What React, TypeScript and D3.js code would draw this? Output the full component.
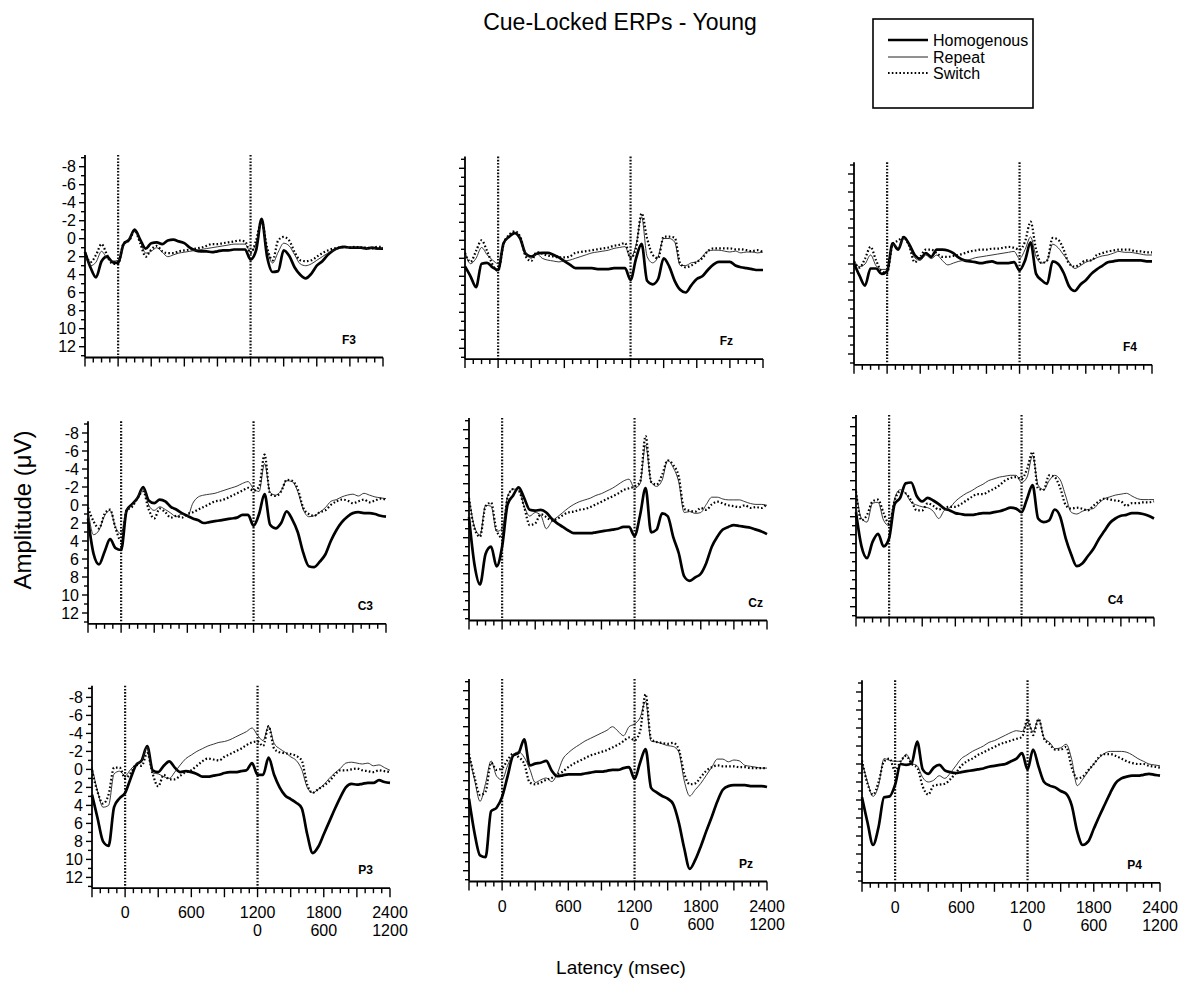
import React from 'react';
import * as d3 from 'd3';

// sample times (ms)
const TIMES = [-300,-250,-200,-150,-100,-50,0,50,100,150,200,250,300,350,400,450,500,550,600,650,700,750,800,850,900,950,1000,1050,1100,1150,1200,1250,1300,1350,1400,1450,1500,1550,1600,1650,1700,1750,1800,1850,1900,1950,2000,2050,2100,2150,2200,2250,2300,2350,2400];

// ---- F3 ----
const F3_HOM = [1.5,3.2,4.3,2.5,2.0,2.6,2.7,0.6,0.1,-1.0,0.1,1.1,0.5,0.4,0.6,0.2,0.1,0.3,0.5,1.0,1.3,1.4,1.4,1.5,1.4,1.3,1.3,1.2,1.2,1.2,2.3,1.3,-2.2,2.0,3.7,3.6,1.3,1.9,3.2,4.0,4.4,3.9,3.0,2.5,1.8,1.3,1.0,0.9,1.0,1.0,1.0,1.1,1.0,1.1,1.1];
const F3_REP = [1.6,3.0,2.6,1.4,2.2,2.5,2.4,0.8,0.0,-0.8,0.3,1.6,1.4,1.0,1.5,2.0,1.8,1.6,1.5,1.4,1.3,1.2,1.1,1.0,0.9,0.8,0.7,0.6,0.6,0.6,1.5,0.5,-1.8,1.2,2.7,1.5,0.5,0.8,1.8,2.8,3.0,2.8,2.4,2.0,1.6,1.3,1.1,1.0,1.0,1.0,1.0,1.1,1.0,1.2,1.0];
const F3_SWI = [1.5,2.6,1.8,0.6,1.8,2.8,2.8,0.5,0.2,-0.9,0.5,2.0,1.2,0.8,1.4,1.6,1.6,1.4,1.3,1.2,1.1,1.0,0.8,0.6,0.6,0.5,0.4,0.3,0.2,0.3,1.6,0.2,-2.0,1.0,2.4,0.2,-0.2,0.2,1.5,2.4,2.5,2.4,2.0,1.6,1.3,1.1,1.0,0.9,1.0,0.9,1.0,1.0,1.1,0.9,0.9];
// ---- Fz ----
const FZ_HOM = [2.9,4.0,5.2,2.6,2.5,3.0,3.3,0.3,-0.4,-0.8,-0.2,1.5,1.8,1.5,1.4,1.4,1.6,1.9,2.3,2.7,3.1,3.1,3.1,3.1,3.2,3.2,3.2,3.1,3.1,3.1,4.4,2.0,0.4,4.5,4.9,4.3,2.0,2.9,4.5,5.5,5.8,5.0,4.3,4.0,3.3,2.7,2.4,2.4,2.4,2.8,3.0,3.1,3.2,3.3,3.3];
const FZ_REP = [1.3,2.6,2.0,0.8,1.6,2.2,2.6,0.5,-0.5,-0.9,-0.3,1.4,2.0,1.5,2.0,2.2,2.3,2.4,2.3,2.2,2.0,1.8,1.6,1.4,1.3,1.2,1.1,0.9,0.8,0.7,2.0,0.5,-2.6,1.8,2.5,1.8,-0.2,-0.2,0.2,2.8,2.8,2.5,2.4,1.8,1.2,1.1,1.1,1.2,1.3,1.2,1.4,1.3,1.3,1.4,1.3];
const FZ_SWI = [1.4,2.4,1.2,0.0,1.2,2.7,3.4,0.4,-0.6,-1.0,-0.4,1.8,2.3,1.3,1.5,1.7,1.8,1.9,1.9,1.8,1.4,1.3,1.2,1.1,1.0,0.9,0.8,0.6,0.5,0.3,2.0,0.8,-3.0,-0.2,1.6,2.0,-0.4,-0.4,-0.3,2.6,3.0,2.8,2.4,2.0,1.2,0.9,0.9,0.9,0.9,1.0,1.0,1.1,1.2,1.1,1.3];
// ---- F4 ----
const F4_HOM = [1.9,3.3,4.4,2.5,2.5,3.1,2.8,-0.3,0.4,-1.0,-0.2,1.0,1.4,0.8,1.2,0.4,0.4,0.5,0.8,1.3,1.6,1.7,1.8,1.9,1.8,1.7,1.9,1.9,1.9,1.8,2.7,1.6,-0.4,3.1,3.8,4.2,1.7,2.0,3.0,4.5,5.0,4.3,3.8,3.1,2.6,2.2,1.8,1.7,1.6,1.6,1.6,1.6,1.6,1.7,1.7];
const F4_REP = [1.6,2.3,2.0,1.0,2.2,2.6,2.6,-0.2,0.2,-0.8,0.0,1.3,1.6,1.0,1.4,1.0,1.6,2.1,1.9,1.7,1.6,1.5,1.3,1.2,1.1,1.0,0.9,0.8,0.7,0.6,1.4,0.4,-1.0,1.2,1.9,1.6,-0.2,0.2,1.0,1.8,2.5,2.2,1.8,1.6,1.3,1.1,1.0,0.8,0.6,0.7,0.7,0.8,0.9,1.0,1.0];
const F4_SWI = [1.7,2.4,1.4,0.1,1.6,2.8,3.0,-0.2,-0.6,-1.0,0.0,1.8,1.2,0.4,0.4,0.8,1.2,1.2,1.1,1.0,0.8,0.6,0.5,0.4,0.4,0.3,0.3,0.2,0.1,0.2,0.4,-0.5,-2.7,0.4,1.9,1.6,-0.9,-0.7,0.4,2.0,2.3,2.0,1.6,1.6,1.0,0.8,0.6,0.5,0.4,0.4,0.4,0.6,0.6,0.7,0.7];
// ---- C3 ----
const C3_HOM = [1.5,5.4,6.6,5.2,3.8,4.8,5.0,0.6,-0.1,-0.8,-2.0,-0.5,-0.2,-0.6,-0.4,0.2,0.5,0.9,1.2,1.5,1.7,2.0,1.9,1.8,1.7,1.6,1.5,1.4,1.1,1.1,2.3,1.0,-1.2,2.2,2.6,2.0,0.7,1.6,3.0,5.3,6.8,6.9,6.3,5.5,4.0,2.8,1.9,1.3,0.9,0.8,0.9,0.9,1.0,1.2,1.3];
const C3_REP = [0.4,3.3,2.8,1.2,0.6,2.5,3.2,0.5,0.0,-0.9,-1.8,0.0,0.6,0.2,0.5,0.9,1.3,1.0,1.3,-0.2,-0.9,-1.1,-1.2,-1.3,-1.5,-1.7,-1.9,-2.1,-2.4,-2.6,-1.8,-1.5,-4.6,-1.4,-1.1,-1.6,-2.7,-2.6,-1.5,0.5,1.3,1.2,0.8,0.3,-0.4,-0.6,-0.9,-1.1,-1.2,-1.0,-1.3,-1.1,-0.9,-0.8,-0.7];
const C3_SWI = [0.3,1.8,2.6,1.0,0.5,2.6,4.0,0.6,0.2,-0.8,-1.5,0.5,1.5,0.4,0.8,1.4,1.2,1.4,1.0,0.8,0.5,0.2,-0.1,-0.4,-0.5,-0.7,-1.0,-1.3,-1.6,-1.9,-1.6,-2.0,-5.6,-1.2,-1.0,-1.5,-2.8,-2.7,-1.8,0.3,1.0,1.2,0.8,0.6,0.0,-0.4,-0.6,-0.5,-0.2,-0.4,-0.6,-0.3,-0.5,-0.7,-0.6];
// ---- Cz ----
const CZ_HOM = [1.7,7.0,9.2,5.8,5.0,7.2,5.0,0.3,-0.7,-1.6,-0.4,0.9,1.0,0.9,1.2,1.9,2.4,2.8,3.2,3.5,3.5,3.5,3.5,3.4,3.3,3.2,3.1,3.0,2.8,2.8,3.8,1.5,-1.5,3.4,3.1,1.3,1.6,3.9,5.7,8.3,8.8,8.4,8.0,6.8,5.0,3.9,3.1,2.8,2.6,2.7,2.8,2.9,3.1,3.3,3.6];
const CZ_REP = [-0.6,2.8,3.7,0.4,0.5,3.3,3.0,-0.6,-1.4,-1.3,0.5,1.6,1.2,1.5,3.0,2.2,1.7,1.2,0.7,0.3,0.0,-0.2,-0.4,-0.7,-0.9,-1.2,-1.5,-1.9,-2.3,-2.5,-1.5,-2.0,-6.3,-2.2,-1.7,-2.4,-4.6,-3.8,-2.2,1.2,1.1,1.3,1.2,0.3,-0.5,-0.5,-0.3,-0.2,-0.2,-0.2,0.0,0.2,0.3,0.3,0.4];
const CZ_SWI = [-0.4,3.0,3.9,0.5,0.1,3.2,4.0,-0.5,-1.4,-1.2,0.6,2.6,2.4,1.4,1.7,2.1,1.9,1.5,1.2,1.1,0.9,0.8,0.6,0.3,0.0,-0.3,-0.6,-0.9,-1.3,-1.5,-1.7,-2.2,-7.3,-2.2,-1.9,-3.0,-4.6,-4.1,-2.8,0.8,1.0,1.1,0.7,0.9,0.3,0.0,0.2,0.4,0.5,0.6,0.4,0.7,0.6,0.7,0.2];
// ---- C4 ----
const C4_HOM = [1.5,5.3,6.6,4.8,3.9,5.3,4.4,0.6,-0.1,-1.7,-1.8,-0.3,0.3,-0.1,0.2,0.6,1.1,1.3,1.6,1.7,1.8,1.8,1.7,1.6,1.6,1.5,1.4,1.2,1.0,1.1,1.5,0.0,-1.5,2.2,2.6,2.4,1.2,2.0,4.4,6.2,7.5,7.2,6.4,5.6,4.5,3.6,2.7,2.2,1.9,1.8,1.6,1.6,1.7,1.9,2.2];
const C4_REP = [-1.0,2.2,2.6,0.5,0.4,2.4,3.0,0.0,-1.0,-0.6,0.4,0.7,0.9,1.0,1.4,2.2,1.3,1.0,0.3,-0.2,-0.6,-0.9,-1.3,-1.6,-2.0,-2.2,-2.4,-2.5,-2.6,-2.6,-1.8,-2.4,-4.8,-1.5,-1.0,-2.0,-2.6,-2.1,-0.3,1.5,1.7,1.4,1.2,1.1,0.5,0.0,-0.2,-0.4,-0.5,-0.6,-0.3,0.0,0.1,0.1,0.1];
const C4_SWI = [-0.8,2.4,1.8,0.3,0.1,1.6,2.8,0.2,-0.8,-0.6,0.2,1.3,1.3,0.5,0.8,1.2,1.0,0.9,0.9,0.6,0.2,-0.2,-0.5,-0.5,-0.8,-1.1,-1.5,-2.0,-2.3,-2.4,-2.2,-3.3,-5.2,-1.1,-1.0,-2.6,-2.4,-1.2,0.7,1.1,1.0,1.1,1.3,0.8,0.3,0.0,0.1,0.2,0.3,0.8,0.5,0.5,0.4,0.4,0.3];
// ---- P3 ----
const P3_HOM = [2.8,5.4,8.0,8.5,4.2,3.2,2.6,1.0,-0.5,-1.0,-2.6,0.1,0.3,-0.4,-0.9,-0.2,0.3,0.2,0.3,0.5,0.8,0.8,0.7,0.6,0.4,0.3,0.3,0.2,0.1,-0.7,0.6,0.6,-1.3,0.6,2.0,2.9,3.3,3.7,4.3,7.2,9.3,8.6,7.2,5.8,4.4,3.1,2.0,1.6,1.7,1.6,1.5,1.5,1.2,1.4,1.5];
const P3_REP = [-0.3,2.4,4.2,4.0,0.5,0.2,0.7,0.0,-0.6,-1.0,-2.5,0.4,0.5,0.8,1.0,0.3,-0.5,-1.2,-1.6,-2.0,-2.3,-2.6,-2.8,-3.0,-3.1,-3.3,-3.6,-3.9,-4.2,-4.6,-3.8,-3.2,-4.8,-2.9,-2.3,-1.9,-1.4,-1.0,0.0,2.0,2.6,2.2,1.7,1.0,0.4,-0.1,-0.7,-0.8,-0.7,-0.6,-0.7,-0.4,-0.5,-0.2,0.1];
const P3_SWI = [0.1,2.5,3.8,2.8,-0.2,-0.2,1.0,0.4,-0.5,-0.4,-1.8,0.5,1.9,0.6,1.1,1.1,0.7,0.3,0.1,-0.4,-0.9,-1.2,-1.1,-1.0,-1.4,-1.7,-2.0,-2.3,-2.7,-3.0,-3.1,-2.6,-4.8,-2.3,-1.9,-1.8,-1.7,-1.5,-1.0,1.7,2.6,2.2,1.8,1.3,0.6,0.1,0.1,0.0,-0.1,0.1,0.2,0.3,0.1,0.2,0.3];
// ---- Pz ----
const PZ_HOM = [4.0,7.8,10.3,10.5,5.4,5.0,3.8,1.5,-0.8,-1.1,-2.6,0.3,0.1,0.0,-0.2,0.9,1.5,1.4,1.3,1.3,1.3,1.2,1.1,1.0,1.0,0.9,0.8,0.8,0.6,0.5,1.8,0.0,-1.5,2.8,3.3,3.7,4.0,4.6,6.6,9.5,11.8,10.8,9.3,7.6,6.0,4.3,3.0,2.6,2.5,2.5,2.5,2.6,2.6,2.6,2.7];
const PZ_REP = [-0.9,1.9,4.3,2.3,-0.2,1.5,1.9,0.3,-0.9,-1.2,-0.6,0.7,2.2,1.9,1.7,2.1,1.2,-0.4,-1.1,-1.6,-2.0,-2.4,-2.7,-3.0,-3.3,-3.6,-4.0,-3.5,-3.0,-4.0,-4.3,-5.0,-6.8,-2.4,-2.3,-2.1,-1.9,-1.8,-1.2,2.0,3.7,3.0,2.3,1.4,0.5,-0.4,-0.4,-0.1,-0.3,-0.2,0.3,0.4,0.5,0.6,0.6];
const PZ_SWI = [-1.0,1.6,3.6,3.2,0.0,0.8,0.6,-0.3,-1.0,-0.6,0.1,2.2,2.4,2.2,1.9,1.7,1.3,1.0,0.5,0.1,-0.2,-0.5,-0.8,-1.0,-1.2,-1.4,-1.7,-2.0,-2.4,-2.8,-2.5,-3.5,-7.6,-2.6,-2.3,-2.2,-2.1,-2.2,-1.5,1.2,2.4,2.3,1.6,0.9,0.5,0.3,0.4,0.4,0.4,0.5,0.5,0.6,0.6,0.6,0.6];
// ---- P4 ----
const P4_HOM = [3.7,6.5,9.0,7.0,3.7,3.6,2.3,0.0,0.1,-0.1,-2.5,0.6,1.1,0.4,0.1,0.7,0.9,1.0,0.9,0.8,0.7,0.6,0.5,0.3,0.2,0.1,0.0,-0.3,-0.6,-1.2,0.6,-1.6,0.3,2.0,2.4,2.6,3.0,3.3,4.6,7.5,9.0,8.6,7.2,5.8,4.5,3.2,2.1,1.6,1.4,1.3,1.3,1.2,1.1,1.2,1.3];
const P4_REP = [-0.3,2.0,3.6,2.4,-0.6,-0.4,-0.3,-0.3,-1.1,-0.1,0.2,1.5,2.0,1.8,1.3,1.6,1.0,0.2,-0.6,-1.0,-1.4,-1.7,-2.0,-2.4,-2.6,-2.9,-3.2,-3.5,-3.7,-3.6,-4.6,-3.6,-5.0,-2.9,-2.4,-1.7,-1.8,-2.2,-0.5,2.4,1.7,0.8,0.0,-0.7,-1.2,-1.4,-1.4,-1.4,-1.3,-1.0,-0.6,-0.3,0.0,0.1,0.2];
const P4_SWI = [-0.4,2.2,3.4,2.0,-0.3,-0.6,0.8,-0.3,-0.9,0.0,0.4,2.5,3.4,2.4,2.3,2.2,1.7,1.0,0.2,-0.3,-0.6,-1.0,-1.3,-1.6,-1.9,-2.2,-2.4,-2.6,-2.8,-3.0,-5.0,-3.2,-5.0,-2.8,-2.2,-1.6,-1.6,-1.9,0.4,1.6,1.4,0.7,0.0,-0.8,-1.1,-1.1,-0.9,-0.6,-0.3,-0.1,0.0,0.0,0.2,0.3,0.4];

const ELECTRODES = ['F3', 'Fz', 'F4', 'C3', 'Cz', 'C4', 'P3', 'Pz', 'P4'];
const SERIES_BY_ELECTRODE = [
  [F3_HOM, F3_REP, F3_SWI],
  [FZ_HOM, FZ_REP, FZ_SWI],
  [F4_HOM, F4_REP, F4_SWI],
  [C3_HOM, C3_REP, C3_SWI],
  [CZ_HOM, CZ_REP, CZ_SWI],
  [C4_HOM, C4_REP, C4_SWI],
  [P3_HOM, P3_REP, P3_SWI],
  [PZ_HOM, PZ_REP, PZ_SWI],
  [P4_HOM, P4_REP, P4_SWI],
];
const CONDITIONS = ['Homogenous', 'Repeat', 'Switch'];
const Y_TICK_LABELS = [-8, -6, -4, -2, 0, 2, 4, 6, 8, 10, 12];
const X_TICK_LABELS = [0, 600, 1200, 1800, 2400];
const X_TICK_LABELS_TARGET = [0, 600, 1200]; // relative to target onset at 1200
const MARKERS = [0, 1200];

// layout (pixel placement of each panel, scanned figure is slightly skewed)
const LAYOUT = [
  { left: 85, zero: 238.7, labelRight: 356 },
  { left: 465, zero: 240.3, labelRight: 733 },
  { left: 854, zero: 246, labelRight: 1137 },
  { left: 88, zero: 505, labelRight: 373 },
  { left: 469, zero: 501.7, labelRight: 763 },
  { left: 856, zero: 498.7, labelRight: 1123 },
  { left: 92, zero: 769.4, labelRight: 373 },
  { left: 469, zero: 762.7, labelRight: 753 },
  { left: 862, zero: 764, labelRight: 1142 },
];
const PW = 298;
const UNIT = 9;
const Y_MIN = -9.3;
const Y_MAX = 13.2;

const STYLES = [
  { stroke: '#000', width: 2.7, dash: undefined as string | undefined, opacity: 1 },
  { stroke: '#222', width: 1.0, dash: undefined as string | undefined, opacity: 0.9 },
  { stroke: '#000', width: 2.2, dash: '1.6,2.2', opacity: 1 },
];

const FONT = 'Liberation Sans, Arial, Helvetica, sans-serif';

function Panel({ idx }: { idx: number }) {
  const L = LAYOUT[idx];
  const col = idx % 3;
  const row = Math.floor(idx / 3);
  const x = d3.scaleLinear().domain([-300, 2400]).range([L.left, L.left + PW]);
  const y = d3
    .scaleLinear()
    .domain([Y_MIN, Y_MAX])
    .range([L.zero + Y_MIN * UNIT, L.zero + Y_MAX * UNIT]);
  const line = d3
    .line<number>()
    .x((_, i) => x(TIMES[i]))
    .y((d) => y(d))
    .curve(d3.curveMonotoneX);
  const xTicks = d3.range(-300, 2401, 75);
  const yTicks = d3.range(-9, 14, 1);
  const yBottom = y(Y_MAX);
  const yTop = y(Y_MIN);
  return (
    <g>
      {MARKERS.map((m) => (
        <line
          key={'m' + m}
          x1={x(m)}
          x2={x(m)}
          y1={yTop}
          y2={yBottom}
          stroke="#111"
          strokeWidth={2.2}
          strokeDasharray="1.6,1.6"
        />
      ))}
      {SERIES_BY_ELECTRODE[idx].map((s, k) => (
        <path
          key={'s' + k}
          d={line(s) || ''}
          fill="none"
          stroke={STYLES[k].stroke}
          strokeWidth={STYLES[k].width}
          strokeDasharray={STYLES[k].dash}
          strokeOpacity={STYLES[k].opacity}
          strokeLinejoin="round"
        />
      ))}
      <line x1={L.left} x2={L.left} y1={yTop} y2={yBottom} stroke="#000" strokeWidth={1.8} />
      <line x1={L.left} x2={L.left + PW} y1={yBottom} y2={yBottom} stroke="#000" strokeWidth={1.8} />
      {yTicks.map((t) => (
        <line
          key={'yt' + t}
          x1={L.left - (t % 2 === 0 ? 6 : 4)}
          x2={L.left}
          y1={y(t)}
          y2={y(t)}
          stroke="#000"
          strokeWidth={1.4}
        />
      ))}
      {xTicks.map((t) => (
        <line
          key={'xt' + t}
          x1={x(t)}
          x2={x(t)}
          y1={yBottom}
          y2={yBottom + (t % 300 === 0 ? 9 : 5)}
          stroke="#000"
          strokeWidth={1.4}
        />
      ))}
      {col === 0 &&
        Y_TICK_LABELS.map((t) => (
          <text
            key={'yl' + t}
            x={L.left - 9}
            y={y(t)}
            dy="0.36em"
            textAnchor="end"
            fontFamily={FONT}
            fontSize={16}
            fill="#000"
          >
            {t}
          </text>
        ))}
      {row === 2 &&
        X_TICK_LABELS.map((t) => (
          <text
            key={'xl' + t}
            x={x(t)}
            y={yBottom + 30}
            textAnchor="middle"
            fontFamily={FONT}
            fontSize={16}
            fill="#000"
          >
            {t}
          </text>
        ))}
      {row === 2 &&
        X_TICK_LABELS_TARGET.map((t) => (
          <text
            key={'xl2' + t}
            x={x(t + 1200)}
            y={yBottom + 48}
            textAnchor="middle"
            fontFamily={FONT}
            fontSize={16}
            fill="#000"
          >
            {t}
          </text>
        ))}
      <text
        x={L.labelRight}
        y={L.zero + 105}
        textAnchor="end"
        fontFamily={FONT}
        fontSize={12}
        fontWeight="bold"
        fill="#000"
      >
        {ELECTRODES[idx]}
      </text>
    </g>
  );
}

export default function App() {
  const legendY = [40, 57, 73];
  return (
    <svg
      width={1182}
      height={985}
      style={{ display: 'block', position: 'absolute', left: 0, top: 0, background: '#fff' }}
    >
      <rect x={0} y={0} width={1182} height={985} fill="#fff" />
      <text x={620} y={30} textAnchor="middle" fontFamily={FONT} fontSize={23} fill="#000">
        Cue-Locked ERPs - Young
      </text>
      <rect x={873} y={19} width={160} height={89} fill="#fff" stroke="#000" strokeWidth={1.6} />
      {CONDITIONS.map((c, k) => (
        <g key={c}>
          <line
            x1={888}
            x2={928}
            y1={legendY[k]}
            y2={legendY[k]}
            stroke={STYLES[k].stroke}
            strokeWidth={STYLES[k].width}
            strokeDasharray={STYLES[k].dash}
          />
          <text x={933} y={legendY[k]} dy="0.36em" fontFamily={FONT} fontSize={16} fill="#000">
            {c}
          </text>
        </g>
      ))}
      {ELECTRODES.map((_, i) => (
        <Panel key={i} idx={i} />
      ))}
      <text
        transform="translate(31,510) rotate(-90)"
        textAnchor="middle"
        fontFamily={FONT}
        fontSize={24}
        fill="#000"
      >
        Amplitude (μV)
      </text>
      <text x={621} y={974} textAnchor="middle" fontFamily={FONT} fontSize={19} fill="#000">
        Latency (msec)
      </text>
    </svg>
  );
}
